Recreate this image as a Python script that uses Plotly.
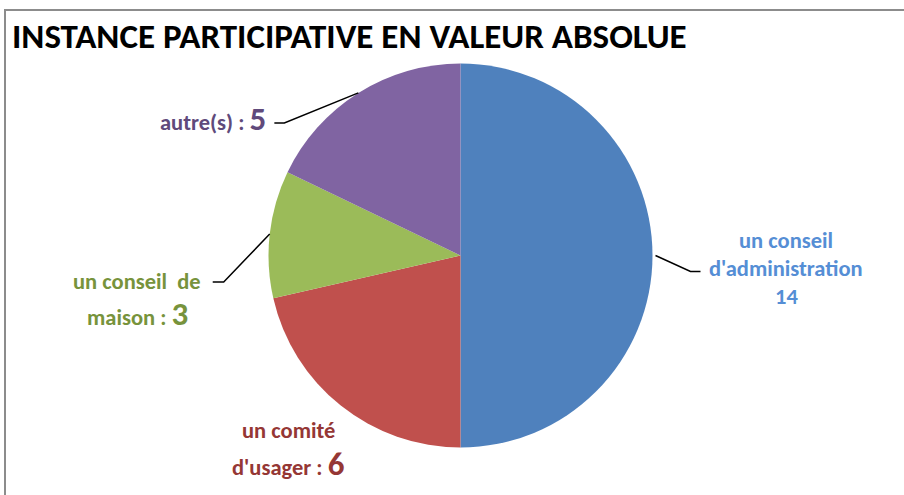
import math
import plotly.graph_objects as go

# ---- data ----
categories = ["un conseil d'administration", "un comité d'usager", "un conseil de maison", "autre(s)"]
values = [14, 6, 3, 5]
slice_colors = ["#4F81BD", "#C0504D", "#9BBB59", "#8064A2"]
text_colors = ["#558ED5", "#953735", "#77933C", "#604A7B"]
title_text = "INSTANCE PARTICIPATIVE EN VALEUR ABSOLUE"

W, H = 904, 495
FONT = "Carlito, Lato, sans-serif"

# pie geometry (pixels)
cx, cy, R = 460.5, 255.5, 192
dom_x = [(cx - R) / W, (cx + R) / W]
dom_y = [1 - (cy + R) / H, 1 - (cy - R) / H]

fig = go.Figure(go.Pie(
    labels=categories, values=values, sort=False, direction="clockwise", rotation=0,
    marker=dict(colors=slice_colors, line=dict(width=0)),
    textinfo="none", hoverinfo="label+value", showlegend=False,
    domain=dict(x=dom_x, y=dom_y),
))

def px(x):
    return x / W

def py(y):
    return 1 - y / H

total = sum(values)
mids = []
acc = 0
for v in values:
    mids.append((acc + v / 2) / total * 2 * math.pi)
    acc += v

def edge(i):
    a = mids[i]
    return cx + R * math.sin(a), cy - R * math.cos(a)

shapes = []
# border
shapes.append(dict(type="rect", xref="paper", yref="paper", x0=px(5), x1=px(915), y0=py(10), y1=py(505),
                   line=dict(color="#8C8C8C", width=2), fillcolor="rgba(0,0,0,0)"))

# leader lines: (slice index, elbow dx, elbow dy, horizontal length)
leaders = [(0, 35, 16, 10), (2, -46, 48, -11), (3, -74, 30, -10)]
for i, dx, dy, hl in leaders:
    ex, ey = edge(i)
    if i == 0:
        ex += 3
    bx, by = ex + dx, ey + dy
    shapes.append(dict(type="path", xref="paper", yref="paper",
                       path=f"M {px(ex)} {py(ey)} L {px(bx)} {py(by)} L {px(bx + hl)} {py(by)}",
                       line=dict(color="black", width=1.5)))

annotations = []
def label(x, y, text, color, size=22.5, xanchor="center"):
    annotations.append(dict(x=px(x), y=py(y), xref="paper", yref="paper", text=text, showarrow=False,
                            xanchor=xanchor, yanchor="middle",
                            font=dict(family=FONT, size=size, color=color)))

big = 33
# un conseil d'administration
label(786, 240, "<b>un conseil</b>", text_colors[0])
label(786, 268, "<b>d'administration</b>", text_colors[0])
label(786, 296, f"<b>{values[0]}</b>", text_colors[0])
# un comité d'usager
label(288, 430, "<b>un comité</b>", text_colors[1])
label(288, 464, f"<b>d'usager : <span style='font-size:{big}px'>{values[1]}</span></b>", text_colors[1])
# un conseil de maison
label(137, 281, "<b>un conseil  de</b>", text_colors[2])
label(137, 314, f"<b>maison : <span style='font-size:{big}px'>{values[2]}</span></b>", text_colors[2])
# autre(s)
label(268, 119, f"<b>autre(s) : <span style='font-size:{big}px'>{values[3]}</span></b>", text_colors[3], xanchor="right")

# title
annotations.append(dict(x=px(10), y=py(36), xref="paper", yref="paper", text=f"<b>{title_text}</b>",
                        showarrow=False, xanchor="left", yanchor="middle",
                        font=dict(family=FONT, size=35, color="black")))

fig.update_layout(width=W, height=H, margin=dict(l=0, r=0, t=0, b=0),
                  paper_bgcolor="white", plot_bgcolor="white",
                  shapes=shapes, annotations=annotations)

fig.write_html("out.html", config={"displayModeBar": False},
               post_script="document.body.style.margin='0px';")
